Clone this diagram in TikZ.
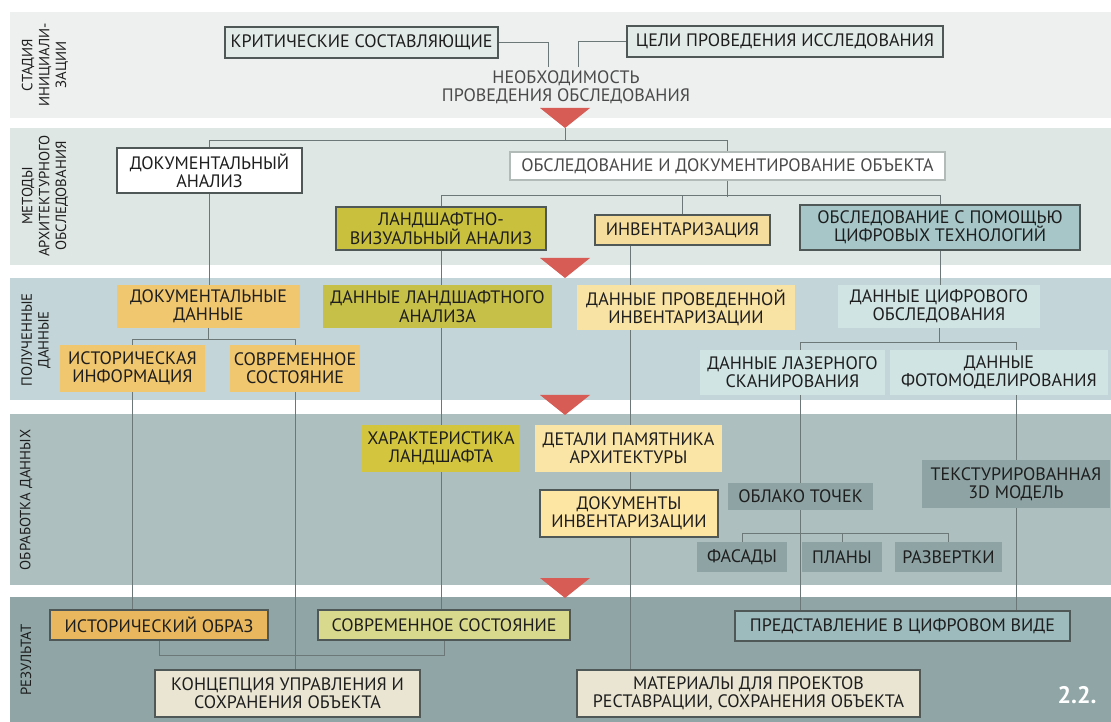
\documentclass[tikz,border=0pt]{standalone}
\usepackage{fontspec}
\setmainfont{PT Sans}
\usetikzlibrary{calc}
\definecolor{band-a}{HTML}{EEF0EF}
\definecolor{band-b}{HTML}{DFE7E5}
\definecolor{band-c}{HTML}{C3D5D8}
\definecolor{band-d}{HTML}{ADBFBF}
\definecolor{band-e}{HTML}{8FA5A6}
\definecolor{marker-red}{HTML}{D65C55}
\definecolor{ink}{HTML}{1E1E1E}
\definecolor{grey-ink}{HTML}{4A4A4A}
\definecolor{frame}{HTML}{4F5856}
\definecolor{pale}{HTML}{B3BBB9}
\definecolor{wire}{HTML}{6C7877}
\definecolor{crit-fill}{HTML}{E2EBE7}
\definecolor{land-fill}{HTML}{C9C03E}
\definecolor{inv-fill}{HTML}{F5DD9E}
\definecolor{digi-fill}{HTML}{A6C6C8}
\definecolor{docd-fill}{HTML}{F0C66E}
\definecolor{landd-fill}{HTML}{C6BF48}
\definecolor{invd-fill}{HTML}{F8E2A4}
\definecolor{digd-fill}{HTML}{D0E4E4}
\definecolor{charl-fill}{HTML}{D3C63E}
\definecolor{det-fill}{HTML}{FAE5A7}
\definecolor{invdoc-fill}{HTML}{FDE5A4}
\definecolor{tile}{HTML}{8EA3A4}
\definecolor{himg-fill}{HTML}{E9B85E}
\definecolor{mod-fill}{HTML}{D9D98E}
\definecolor{rep-fill}{HTML}{9DBBBD}
\definecolor{out-fill}{HTML}{E9E5D2}
\pgfdeclarelayer{bands}
\pgfdeclarelayer{links}
\pgfsetlayers{bands,links,main}

\begin{document}
\begin{tikzpicture}[
  x=0.25mm, y=-0.25mm,
  bw/.style={minimum width=#1*0.25mm},
  bh/.style={minimum height=#1*0.25mm},
  box/.style={align=center, inner xsep=3pt, inner ysep=2pt,
              font=\fontsize{12.8}{13}\selectfont, text=ink},
  framed/.style={box, draw=frame, line width=1.2pt},
  soft/.style={box},
  stage/.style={rotate=90, align=center, font=\fontsize{10.5}{12}\selectfont, text=ink},
  link/.style={draw=wire, line width=0.6pt},
]
\useasboundingbox (0,0) rectangle (1111,722);

\begin{pgfonlayer}{bands}
\fill[band-a] (10,12)  rectangle (1111,118);
\fill[band-b] (10,128) rectangle (1111,265);
\fill[band-c] (10,278) rectangle (1111,400);
\fill[band-d] (10,414) rectangle (1111,585);
\fill[band-e] (10,597) rectangle (1111,722);
\foreach \y [count=\i] in {108,258,395,578} {
  \fill[marker-red] (540,\y) -- (590,\y) -- (565,\y+20) -- cycle;
  \coordinate (tip\i) at (565,\y+20);
}
\end{pgfonlayer}

\node[stage] (s1) at (45,65)  {СТАДИЯ\\ИНИЦИАЛИ-\\ЗАЦИИ};
\node[stage] (s2) at (45,196) {МЕТОДЫ\\АРХИТЕКТУРНОГО\\ОБСЛЕДОВАНИЯ};
\node[stage] (s3) at (36,340) {ПОЛУЧЕННЫЕ\\ДАННЫЕ};
\node[stage] (s4) at (26,500) {ОБРАБОТКА ДАННЫХ};
\node[stage] (s5) at (26,660) {РЕЗУЛЬТАТ};

% initiation
\node[framed, fill=crit-fill, bw=273, bh=31] (crit) at (361.5,42.5) {КРИТИЧЕСКИЕ СОСТАВЛЯЮЩИЕ};
\node[framed, fill=crit-fill, bw=316, bh=31] (goal) at (785,41.5) {ЦЕЛИ ПРОВЕДЕНИЯ ИССЛЕДОВАНИЯ};
\node[box, text=grey-ink] (need) at (566,87) {НЕОБХОДИМОСТЬ\\ПРОВЕДЕНИЯ ОБСЛЕДОВАНИЯ};

% methods
\node[framed, fill=white, bw=185, bh=45] (doc) at (209.5,170.5) {ДОКУМЕНТАЛЬНЫЙ\\АНАЛИЗ};
\node[box, draw=pale, line width=0.8pt, fill=white, text=grey-ink, bw=435, bh=28] (obsl) at (727.5,166)
  {ОБСЛЕДОВАНИЕ И ДОКУМЕНТИРОВАНИЕ ОБЪЕКТА};
\node[framed, fill=land-fill, bw=210, bh=43] (land) at (441,228.5) {ЛАНДШАФТНО-\\ВИЗУАЛЬНЫЙ АНАЛИЗ};
\node[framed, fill=inv-fill, bw=175, bh=30] (inv) at (682.5,230) {ИНВЕНТАРИЗАЦИЯ};
\node[framed, fill=digi-fill, bw=280, bh=45] (digi) at (940,227.5) {ОБСЛЕДОВАНИЕ С ПОМОЩЬЮ\\ЦИФРОВЫХ ТЕХНОЛОГИЙ};

% data
\node[soft, fill=docd-fill, bw=183, bh=43] (docd) at (208.5,306.5) {ДОКУМЕНТАЛЬНЫЕ\\ДАННЫЕ};
\node[soft, fill=landd-fill, bw=229, bh=43] (landd) at (437.5,306.5) {ДАННЫЕ ЛАНДШАФТНОГО\\АНАЛИЗА};
\node[soft, fill=invd-fill, bw=218, bh=45] (invd) at (686,307.5) {ДАННЫЕ ПРОВЕДЕННОЙ\\ИНВЕНТАРИЗАЦИИ};
\node[soft, fill=digd-fill, bw=202, bh=43] (digd) at (939,306.5) {ДАННЫЕ ЦИФРОВОГО\\ОБСЛЕДОВАНИЯ};
\node[soft, fill=docd-fill, bw=145, bh=47] (hist) at (132.5,368.5) {ИСТОРИЧЕСКАЯ\\ИНФОРМАЦИЯ};
\node[soft, fill=docd-fill, bw=130, bh=47] (modern) at (295,368.5) {СОВРЕМЕННОЕ\\СОСТОЯНИЕ};
\node[soft, fill=digd-fill, bw=185, bh=45] (laser) at (792.5,372.5) {ДАННЫЕ ЛАЗЕРНОГО\\СКАНИРОВАНИЯ};
\node[soft, fill=digd-fill, bw=218, bh=45] (photo) at (999,372.5) {ДАННЫЕ\\ФОТОМОДЕЛИРОВАНИЯ};

% processing
\node[soft, fill=charl-fill, bw=158, bh=47] (charl) at (441,448.5) {ХАРАКТЕРИСТИКА\\ЛАНДШАФТА};
\node[soft, fill=det-fill, bw=187, bh=47] (det) at (628.5,448.5) {ДЕТАЛИ ПАМЯТНИКА\\АРХИТЕКТУРЫ};
\node[framed, fill=invdoc-fill, bw=178, bh=47] (invdoc) at (629,513.5) {ДОКУМЕНТЫ\\ИНВЕНТАРИЗАЦИИ};
\node[soft, fill=tile, bw=145, bh=27] (cloud) at (800.5,496.5) {ОБЛАКО ТОЧЕК};
\node[soft, fill=tile, bw=188, bh=48] (tex) at (1016,484) {ТЕКСТУРИРОВАННАЯ\\3D МОДЕЛЬ};
\node[soft, fill=tile, bw=90, bh=30]  (fac) at (742,557) {ФАСАДЫ};
\node[soft, fill=tile, bw=80, bh=30]  (pla) at (842,557) {ПЛАНЫ};
\node[soft, fill=tile, bw=107, bh=30] (unf) at (948.5,557) {РАЗВЕРТКИ};

% results
\node[framed, fill=himg-fill, bw=218, bh=30] (himg) at (159,625) {ИСТОРИЧЕСКИЙ ОБРАЗ};
\node[framed, fill=mod-fill, bw=252, bh=30] (modst) at (444,625) {СОВРЕМЕННОЕ СОСТОЯНИЕ};
\node[framed, fill=rep-fill, bw=335, bh=30] (rep) at (902.5,626) {ПРЕДСТАВЛЕНИЕ В ЦИФРОВОМ ВИДЕ};
\node[framed, fill=out-fill, bw=265, bh=47] (conc) at (287.5,693.5) {КОНЦЕПЦИЯ УПРАВЛЕНИЯ И\\СОХРАНЕНИЯ ОБЪЕКТА};
\node[framed, fill=out-fill, bw=343, bh=47] (mat) at (748.5,693.5) {МАТЕРИАЛЫ ДЛЯ ПРОЕКТОВ\\РЕСТАВРАЦИИ, СОХРАНЕНИЯ ОБЪЕКТА};
\node[font=\fontsize{17}{17}\selectfont\bfseries, text=white] (fig) at (1077,695) {2.2.};

\coordinate (landx) at (441,0);
\coordinate (invx) at (630,0);

\begin{pgfonlayer}{links}
\draw[link] (crit.east) -| ($(need.north)+(-18,0)$);
\draw[link] (goal.west) -| ($(need.north)+(12,0)$);
\draw[link] (tip1) -- ++(0,13);
\draw[link] (doc.north) -- ++(0,-7) -| (obsl.north);
\draw[link] (obsl.south) -- ++(0,16);
\draw[link] (land.north) -- ++(0,-11) -| (digi.north);
\draw[link] (inv.north) -- ++(0,-19);

\foreach \a/\b in {land/landd, landd/charl, charl/modst}
  \draw[link] (\a.south -| landx) -- (\b.north -| landx);
\foreach \a/\b in {inv/invd, invd/det, det/invdoc, invdoc/mat}
  \draw[link] (\a.south -| invx) -- (\b.north -| invx);

\draw[link] (doc.south) -- (doc.south |- docd.north);
\draw[link] (docd.south) -- ++(0,12);
\draw[link] (hist.north) -- ++(0,-5) -| (modern.north);
\draw[link] (digi.south) -- (digi.south |- digd.north);
\draw[link] (digd.south) -- ++(0,15);
\draw[link] (laser.north -| cloud) -- ++(0,-7) -| (photo.north -| tex);
\draw[link] (laser.south -| cloud) -- (cloud.north);
\draw[link] (photo.south -| tex) -- (tex.north);
\draw[link] (tex.south) -- (rep.north -| tex);
\draw[link] (cloud.south) -- (rep.north -| cloud);
\draw[link] (fac.north) -- ++(0,-8) -| (unf.north);
\draw[link] (pla.north) -- ++(0,-8);
\draw[link] (hist.south) -- (hist.south |- himg.north);
\draw[link] (modern.south) -- (modern.south |- conc.north);
\draw[link] (himg.south) -- ++(0,15) -| (modst.south);
\end{pgfonlayer}
\end{tikzpicture}
\end{document}
